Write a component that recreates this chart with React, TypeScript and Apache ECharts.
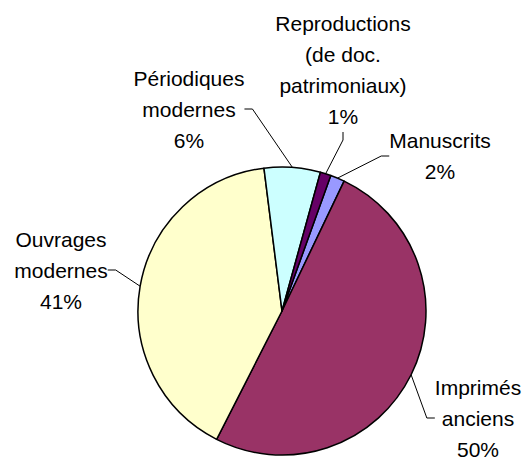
import React, { useEffect, useRef } from "react";
import * as echarts from "echarts";

const categories = [
  "Manuscrits",
  "Imprimés\nanciens",
  "Ouvrages\nmodernes",
  "Périodiques\nmodernes",
  "Reproductions\n(de doc.\npatrimoniaux)",
];
const values = [1.6, 50.4, 40.5, 6.3, 1.2];
const colors = ["#9999FF", "#993366", "#FFFFCC", "#CCFFFF", "#660066"];
// label block centres (style only)
const labelPos: [number, number][] = [
  [440, 156],
  [478, 418],
  [61, 270],
  [189, 109],
  [343, 70],
];

export default function App() {
  const ref = useRef<HTMLDivElement>(null);
  useEffect(() => {
    document.body.style.margin = "0";
    const chart = echarts.init(ref.current!, null, { renderer: "svg" });
    const total = values.reduce((a, b) => a + b, 0);
    chart.setOption({
      animation: false,
      backgroundColor: "#ffffff",
      series: [
        {
          type: "pie",
          center: [282, 311],
          radius: 144,
          startAngle: 70.2,
          clockwise: true,
          avoidLabelOverlap: false,
          data: categories.map((c, i) => ({
            name: c,
            value: values[i],
            itemStyle: { color: colors[i] },
          })),
          itemStyle: { borderColor: "#000", borderWidth: 1.5 },
          emphasis: { disabled: true },
          label: {
            show: true,
            position: "outside",
            color: "#000",
            fontFamily: "Liberation Sans, Arial, sans-serif",
            fontSize: 21,
            lineHeight: 31,
            align: "center",
            formatter: (p: any) =>
              p.name + "\n" + Math.round((p.value / total) * 100) + "%",
          },
          labelLine: {
            show: true,
            length: 12,
            length2: 8,
            lineStyle: { color: "#000", width: 1 },
          },
          labelLayout: (p: any) => {
            const [x, y] = labelPos[p.dataIndex];
            return { x, y, align: "center", verticalAlign: "middle" };
          },
        },
      ],
    });
    return () => chart.dispose();
  }, []);
  return <div ref={ref} style={{ width: 522, height: 459 }} />;
}
